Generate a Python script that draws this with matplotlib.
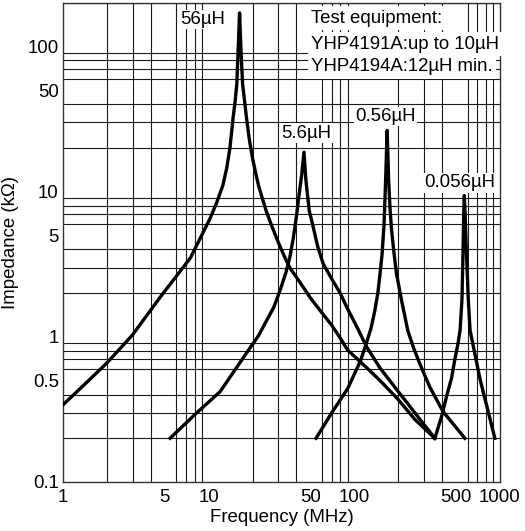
"""Impedance vs frequency of four chip inductors (56, 5.6, 0.56, 0.056 uH), log-log."""

import matplotlib

matplotlib.use("Agg")
import matplotlib.pyplot as plt
from matplotlib.ticker import FixedFormatter, FixedLocator, LogLocator, NullFormatter

plt.rcParams["font.family"] = ["Liberation Sans", "DejaVu Sans"]

# Frequency in MHz, impedance in kOhm.
freq_56u = [1, 1.5, 2, 3, 4.6, 7.5, 10.2, 11.3, 12.5, 13.3, 14, 14.7, 15.2, 15.6, 16.3,
            16.7, 17.1, 18.2, 19, 20, 21, 22, 23.5, 25, 27.5, 30, 33, 36, 42, 50, 57, 70,
            80, 90, 120, 150, 200, 260, 357]
imp_56u = [0.34, 0.5, 0.66, 1.03, 1.85, 3.5, 6.5, 8.3, 11, 14.5, 20, 32, 42, 55, 170,
           90, 55, 32, 23, 17, 13.5, 11, 8.8, 7.2, 5.6, 4.5, 3.6, 3.0, 2.4, 1.85, 1.56, 1.2,
           0.98, 0.81, 0.62, 0.5, 0.37, 0.27, 0.2]

freq_5u6 = [5.43, 8, 12, 17, 22, 28, 31, 34, 36, 38, 40, 42, 43.5, 45.1, 46.5, 49, 51, 56,
            61, 70, 80, 88.7, 105, 121.6, 150, 200, 260, 357]
imp_5u6 = [0.2, 0.29, 0.42, 0.7, 1.02, 1.6, 2.1, 2.8, 3.5, 4.7, 6.7, 10, 13, 18.7, 12, 7.4,
           6.3, 4.2, 3.2, 2.5, 2.0, 1.6, 1.15, 0.85, 0.61, 0.42, 0.3, 0.2]

freq_0u56 = [54.6, 70, 90, 110, 120, 130, 138, 145, 150, 155, 160, 164, 168, 172, 176,
             180, 187, 195, 211, 233, 255, 280, 330, 407, 574]
imp_0u56 = [0.2, 0.3, 0.44, 0.68, 0.88, 1.14, 1.5, 2.0, 2.7, 3.7, 6, 12, 26.4, 12, 7.5,
            5.5, 3.8, 2.7, 1.78, 1.1, 0.84, 0.66, 0.45, 0.305, 0.2]

freq_0u056 = [357, 400, 430, 465, 490, 515, 532, 548, 558, 564, 569, 576, 590, 606, 623,
              680, 733, 820, 922]
imp_0u056 = [0.2, 0.29, 0.39, 0.52, 0.7, 0.9, 1.11, 1.8, 4, 7.4, 9.4, 7, 3.5, 1.8, 1.11,
             0.72, 0.5, 0.32, 0.2]

curves = [
    (freq_56u, imp_56u),
    (freq_5u6, imp_5u6),
    (freq_0u56, imp_0u56),
    (freq_0u056, imp_0u056),
]

curve_labels = ["56µH", "5.6µH", "0.56µH", "0.056µH"]
label_freq = [12.9, 47, 164, 532]
label_imp = [153, 25.3, 33, 11.5]

x_ticks = [1, 5, 10, 50, 100, 500, 1000]
x_ticklabels = ["1", "5", "10", "50", "100", "500", "1000"]
y_ticks = [0.1, 0.5, 1, 5, 10, 50, 100]
y_ticklabels = ["0.1", "0.5", "1", "5", "10", "50", "100"]

note_lines = ["Test equipment:", "YHP4191A:up to 10µH", "YHP4194A:12µH min."]

FONT = 13.4

fig = plt.figure(figsize=(5.25, 5.31), dpi=100)
ax = fig.add_axes([63 / 525, 1 - 482 / 531, 437 / 525, 479.3 / 531])
ax.set_xscale("log")
ax.set_yscale("log")
ax.set_xlim(1, 1000)
ax.set_ylim(0.1, 200)

ax.xaxis.set_major_locator(FixedLocator(x_ticks))
ax.xaxis.set_major_formatter(FixedFormatter(x_ticklabels))
ax.yaxis.set_major_locator(FixedLocator(y_ticks))
ax.yaxis.set_major_formatter(FixedFormatter(y_ticklabels))
for axis in (ax.xaxis, ax.yaxis):
    axis.set_minor_locator(LogLocator(base=10, subs=range(1, 10), numticks=20))
    axis.set_minor_formatter(NullFormatter())
ax.tick_params(which="both", length=0, labelsize=FONT, colors="black")
ax.tick_params(axis="x", pad=5)
ax.tick_params(axis="y", pad=3)
ax.grid(False, which="major")
ax.grid(True, which="minor", color="0.1", lw=0.8)
ax.set_axisbelow(True)
for spine in ax.spines.values():
    spine.set_linewidth(1.0)
    spine.set_color("0.2")

for freq, imp in curves:
    ax.plot(freq, imp, color="black", lw=2.4, solid_joinstyle="round", zorder=3)

box = dict(facecolor="white", edgecolor="none", pad=1.0)
ax.text(label_freq[0], label_imp[0], curve_labels[0], ha="right", va="center",
        fontsize=FONT, bbox=box, zorder=4)
for name, f, z in zip(curve_labels[1:], label_freq[1:], label_imp[1:]):
    ax.text(f, z, name, ha="center", va="center", fontsize=FONT, bbox=box, zorder=4)

# test-equipment note, one text per line (white backing hides the grid)
note_rows = [0.968, 0.913, 0.866]
for line, row in zip(note_lines, note_rows):
    ax.text(0.568, row, line, transform=ax.transAxes, ha="left", va="center",
            fontsize=FONT, bbox=dict(facecolor="white", edgecolor="none", pad=2.5), zorder=4)

ax.set_xlabel("Frequency (MHz)", fontsize=FONT, labelpad=2)
ax.set_ylabel("Impedance (kΩ)", fontsize=FONT, labelpad=6)

fig.savefig("out.png", dpi=100)
